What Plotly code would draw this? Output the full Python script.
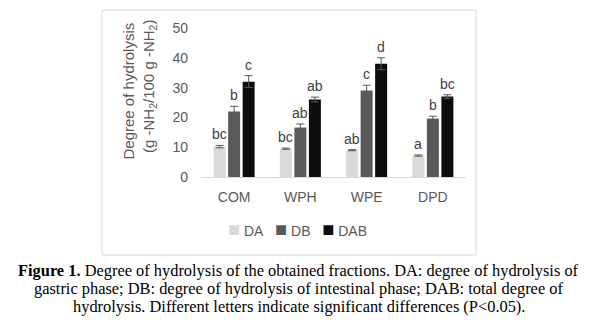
import plotly.graph_objects as go

categories = ["COM", "WPH", "WPE", "DPD"]
series_names = ["DA", "DB", "DAB"]
DA = [10.2, 9.5, 9.0, 7.2]
DB = [22.0, 16.6, 29.0, 19.6]
DAB = [32.0, 26.0, 38.0, 27.0]
DA_err = [0.4, 0.2, 0.2, 0.2]
DB_err = [1.7, 1.2, 1.8, 0.8]
DAB_err = [2.0, 0.8, 2.0, 0.6]
DA_letters = ["bc", "bc", "ab", "a"]
DB_letters = ["b", "ab", "c", "b"]
DAB_letters = ["c", "ab", "d", "bc"]
colors = ["#d9d9d9", "#595959", "#0d0d0d"]

W, H = 597, 331
L, R, T, B = 201, 466, 28, 177  # plot area in px

values = [DA, DB, DAB]
errs = [DA_err, DB_err, DAB_err]
letters = [DA_letters, DB_letters, DAB_letters]

fig = go.Figure()
offsets = [-1, 0, 1]
slot = 0.219
for s in range(3):
    xs = [i + offsets[s] * slot for i in range(len(categories))]
    fig.add_trace(go.Bar(
        x=xs, y=values[s], name=series_names[s], width=0.181,
        marker=dict(color=colors[s], line=dict(width=0)),
        error_y=dict(type="data", array=errs[s], color="#595959", thickness=1, width=4),
        showlegend=False,
    ))
    for i in range(len(categories)):
        fig.add_annotation(x=xs[i], y=values[s][i] + errs[s][i], text=letters[s][i],
                           showarrow=False, yanchor="bottom", yshift=1,
                           font=dict(family="Liberation Sans, Arial", size=14, color="#404040"))

def px_x(p):
    return (p - L) / (R - L)

def px_y(p):
    return (B - p) / (B - T)

fig.add_shape(type="rect", xref="paper", yref="paper",
              x0=px_x(102), x1=px_x(476), y0=px_y(255), y1=px_y(10),
              line=dict(color="#d9d9d9", width=1), fillcolor="rgba(0,0,0,0)", layer="below")

# y-axis title (two lines)
fig.add_annotation(xref="paper", yref="paper", x=px_x(128), y=px_y(91.5), textangle=-90,
                   text="Degree of hydrolysis", showarrow=False, xanchor="center", yanchor="middle",
                   font=dict(family="Liberation Sans, Arial", size=15, color="#595959"))
fig.add_annotation(xref="paper", yref="paper", x=px_x(149), y=px_y(87), textangle=-90,
                   text="(g -NH<sub>2</sub>/100 g -NH<sub>2</sub>)", showarrow=False,
                   xanchor="center", yanchor="middle",
                   font=dict(family="Liberation Sans, Arial", size=15, color="#595959"))

# legend
legend_text = "&#160;&#160;&#160;".join(
    f"<span style='color:{c};font-size:20px'>■</span> {n}" for c, n in zip(colors, series_names))
fig.add_annotation(xref="paper", yref="paper", x=px_x(297), y=px_y(229), text=legend_text,
                   showarrow=False, xanchor="center", yanchor="middle",
                   font=dict(family="Liberation Sans, Arial", size=14, color="#595959"))

caption = [
    "<b>Figure 1.</b> Degree of hydrolysis of the obtained fractions. DA: degree of hydrolysis of",
    "gastric phase; DB: degree of hydrolysis of intestinal phase; DAB: total degree of",
    "hydrolysis. Different letters indicate significant differences (P&lt;0.05).",
]
for k, line in enumerate(caption):
    fig.add_annotation(xref="paper", yref="paper", x=px_x(298.5), y=px_y(270 + 18 * k),
                       text=line, showarrow=False, xanchor="center", yanchor="middle",
                       font=dict(family="Liberation Serif, Times New Roman", size=16.4, color="#000000"))

fig.update_layout(
    width=W, height=H,
    margin=dict(l=L, r=W - R, t=T, b=H - B, pad=0),
    paper_bgcolor="white", plot_bgcolor="white",
    barmode="overlay",
    showlegend=False,
    xaxis=dict(range=[-0.5, 3.5], tickvals=list(range(len(categories))), ticktext=categories,
               showgrid=False, zeroline=False, showline=True, linecolor="#d9d9d9", linewidth=1,
               ticks="", ticklabelstandoff=7,
               tickfont=dict(family="Liberation Sans, Arial", size=14, color="#595959")),
    yaxis=dict(range=[0, 50], tickvals=[0, 10, 20, 30, 40, 50], showgrid=False, zeroline=False,
               showline=False, ticks="", ticklabelstandoff=12,
               tickfont=dict(family="Liberation Sans, Arial", size=14, color="#595959")),
    font=dict(family="Liberation Sans, Arial"),
)

fig.write_html("out.html")
